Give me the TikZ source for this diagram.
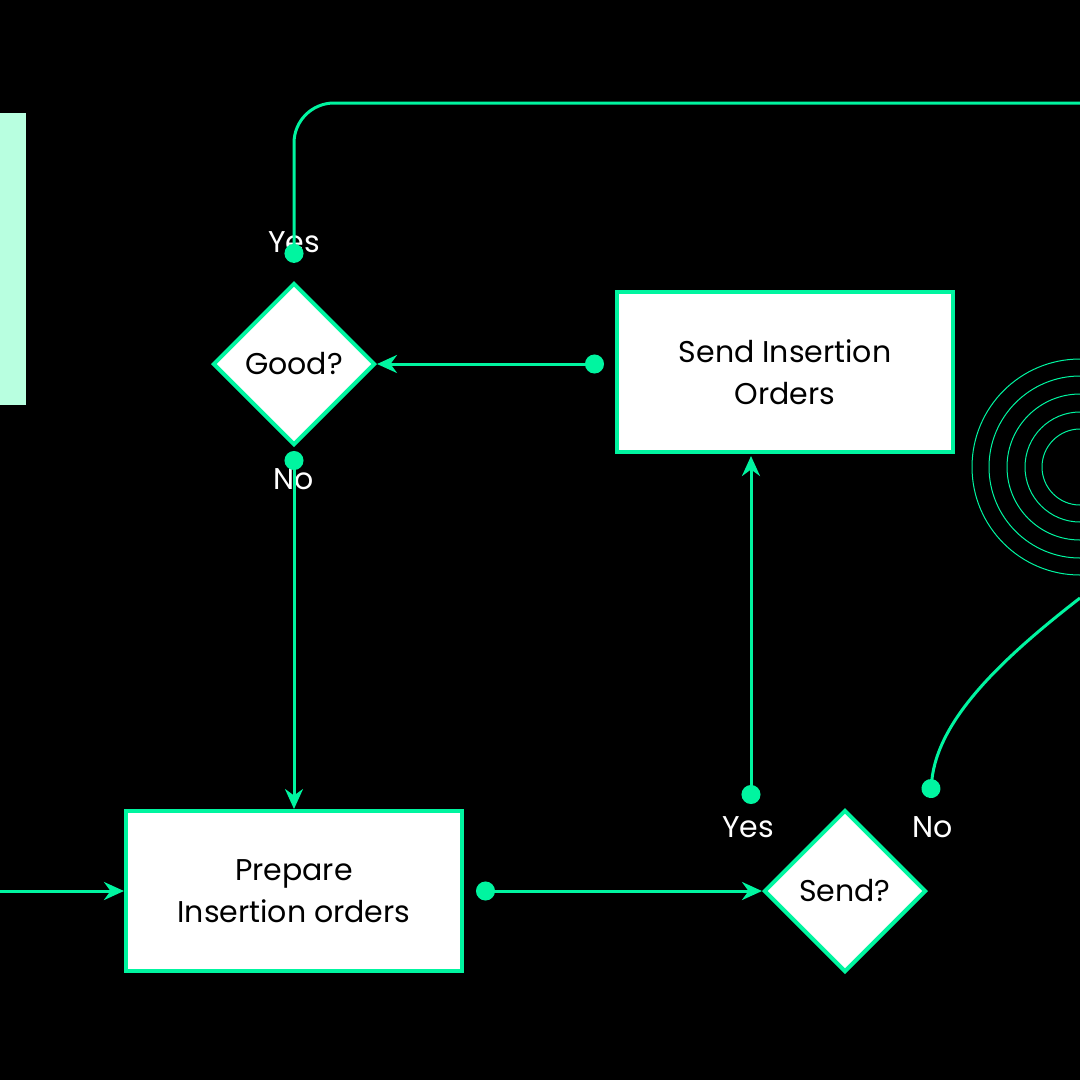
\documentclass[tikz,border=0pt]{standalone}
\usepackage{fontspec}
\setmainfont{Poppins}
\usetikzlibrary{shapes.geometric,arrows.meta}
\definecolor{mint}{HTML}{00F5A0}
\definecolor{pale}{HTML}{B8FFE0}
\begin{document}
\begin{tikzpicture}
  [x=1pt,y=-1pt,
   box/.style=
     {draw=mint,fill=white,line width=4pt,minimum width=336pt,
      minimum height=160pt,align=center,font=\fontsize{30}{42}\selectfont},
   choice/.style=
     {diamond,draw=mint,fill=white,line width=4pt,minimum width=162pt,
      minimum height=162pt,inner sep=0pt,font=\fontsize{30}{36}\selectfont},
   link/.style=
     {draw=mint,line width=3pt},
   tag/.style=
     {text=white,font=\fontsize{30}{36}\selectfont},
   ring/.style=
     {draw=mint,line width=1pt}
  ]
  \fill[black] (0,0) rectangle (1080,1080);
  \useasboundingbox (0,0) rectangle (1080,1080);
  \fill[pale] (0,113) rectangle (26,405);
  % rings
  \foreach \r in {38,55,73,91,108}
    \draw[ring] (1080,467) circle (\r);
  % nodes
  \node[choice] (good) at (294,364) {Good?};
  \node[box] (send) at (785,372) {Send Insertion\\Orders};
  \node[box] (prep) at (294,891) {Prepare\\Insertion orders};
  \node[choice] (ask) at (845,891) {Send?};
  \node[tag] (yesA) at (294,242) {Yes};
  \node[tag] (noA) at (294,479) {No};
  \node[tag] (yesB) at (748,827) {Yes};
  \node[tag] (noB) at (933,827) {No};
  \coordinate (topR) at (1080,103);
  \coordinate (inL) at (0,891);
  \coordinate (outR) at (1080,598);
  % connectors
  \draw[link,{Circle[length=19pt]}-{Stealth[length=20pt,width=18pt]}]
    ([xshift=-11pt]send.west|-good) -- (good.east);
  \draw[link,{Circle[length=19pt]}-,rounded corners=40pt]
    ([yshift=-35pt]yesA.north) -- (294,103) -- (topR);
  \draw[link,{Circle[length=19pt]}-{Stealth[length=20pt,width=18pt]}]
    ([yshift=28pt]noA.center) -- (prep.north);
  \draw[link,-{Stealth[length=20pt,width=18pt]}] (inL) -- (prep.west);
  \draw[link,{Circle[length=19pt]}-{Stealth[length=20pt,width=18pt]}]
    ([xshift=12pt]prep.east) -- (ask.west);
  \draw[link,{Circle[length=19pt]}-{Stealth[length=20pt,width=18pt]}]
    (751,804) -- (751,456);
  \draw[link,{Circle[length=19pt]}-]
    (930,798) .. controls (938,720) and (1000,660) .. (outR);
\end{tikzpicture}
\end{document}
